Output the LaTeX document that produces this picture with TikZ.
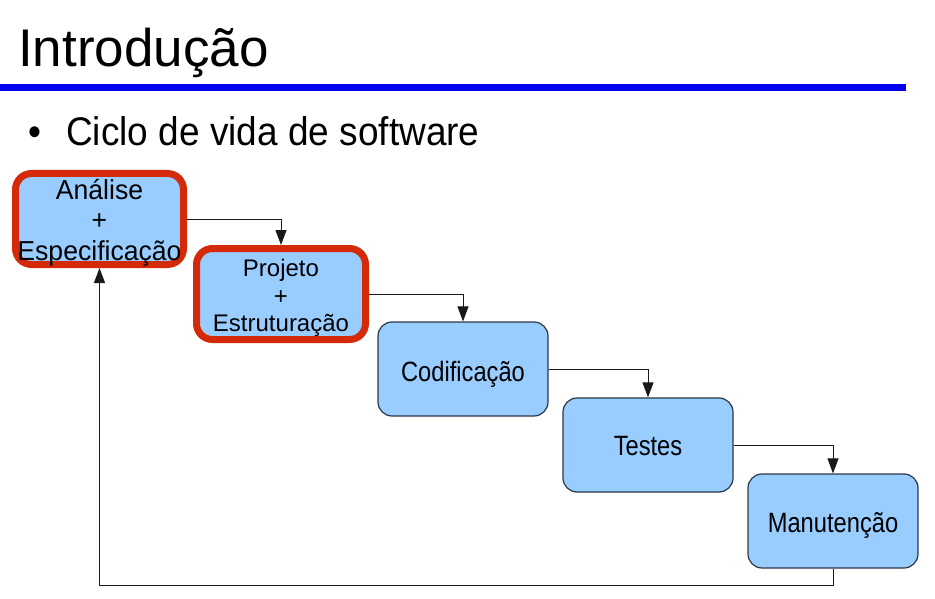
\documentclass[tikz,border=0pt]{standalone}
\usepackage{fontspec}
\setmainfont{Liberation Sans}
\usetikzlibrary{arrows.meta}
\definecolor{boxfill}{HTML}{99CCFF}
\definecolor{boxline}{HTML}{2B3645}
\definecolor{hired}{HTML}{D42A0A}
\definecolor{ruleblue}{HTML}{0000F0}
% text placed with its first baseline #1 below the node centre
\newcommand{\phasetext}[3]{\raisebox{-#1}[0pt][0pt]{\scalebox{1}[#2]{\begin{tabular}[t]{@{}c@{}}#3\end{tabular}}}}
\begin{document}
\begin{tikzpicture}[x=1pt,y=-1pt,
  phase/.style={draw=boxline, line width=1.2pt, fill=boxfill, rounded corners=14pt,
    inner sep=0pt, align=center, minimum width=170pt, minimum height=94pt,
    font=\fontsize{23.7}{26}\selectfont},
  hilite/.style={draw=hired, line width=7pt, rounded corners=16pt,
    minimum width=168pt, minimum height=91pt},
  flow/.style={draw=black!90, line width=1pt, -{Triangle[length=15pt,width=11pt]}},
  plain/.style={inner sep=0pt, anchor=base west}]
\useasboundingbox (0,0) rectangle (935,599);
\fill[white] (0,0) rectangle (935,599);
% heading
\node[plain, font=\fontsize{53}{60}\selectfont] (title) at (18,67) {Introdução};
\draw[ruleblue, line width=7pt] (0,88) -- (906,88);
\node[plain, font=\fontsize{37}{40}\selectfont] (bul) at (28,146) {\scalebox{1}[1.08]{•}};
\node[plain, font=\fontsize{37}{40}\selectfont] (sub) at (66,146) {\scalebox{1}[1.08]{Ciclo de vida de software}};
% phases
\node[phase, hilite, font=\fontsize{26.6}{29.5}\selectfont] (ana) at (99.5,219)
  {\phasetext{-19.7pt}{1.03}{Análise\\+\\Especificação}};
\node[phase, hilite, minimum width=169pt, font=\fontsize{24}{27.5}\selectfont] (proj) at (281,294)
  {\phasetext{-17.3pt}{1.0}{Projeto\\+\\Estruturação}};
\node[phase] (cod) at (463,369) {\phasetext{12.5pt}{1.18}{Codificação}};
\node[phase] (tes) at (648,445) {\phasetext{10.5pt}{1.18}{Testes}};
\node[phase] (man) at (833,521) {\phasetext{11pt}{1.18}{Manutenção}};
% connectors
\draw[flow] (ana.east) -| (proj.north);
\draw[flow] (proj.east) -| (cod.north);
\draw[flow] (cod.east) -| (tes.north);
\draw[flow] (tes.east) -| (man.north);
\coordinate (loop) at (99.5,585);
\draw[flow] (man.south) |- (loop) -- (ana.south);
\end{tikzpicture}
\end{document}
